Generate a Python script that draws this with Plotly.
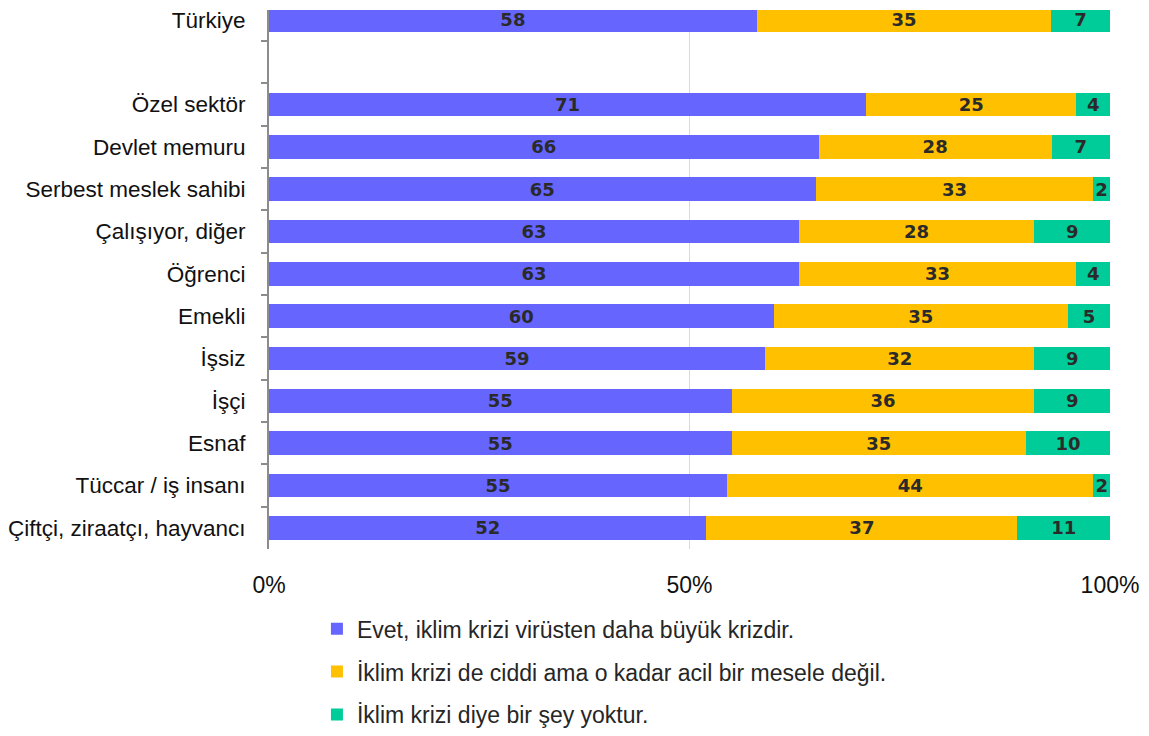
import plotly.graph_objects as go

categories = ["Türkiye", " ", "Özel sektör", "Devlet memuru", "Serbest meslek sahibi",
              "Çalışıyor, diğer", "Öğrenci", "Emekli", "İşsiz", "İşçi", "Esnaf",
              "Tüccar / iş insanı", "Çiftçi, ziraatçı, hayvancı"]
evet = [58, None, 71, 66, 65, 63, 63, 60, 59, 55, 55, 55, 52]
ciddi = [35, None, 25, 28, 33, 28, 33, 35, 32, 36, 35, 44, 37]
yok = [7, None, 4, 7, 2, 9, 4, 5, 9, 9, 10, 2, 11]

series_names = ["Evet, iklim krizi virüsten daha büyük krizdir.",
                "İklim krizi de ciddi ama o kadar acil bir mesele değil.",
                "İklim krizi diye bir şey yoktur."]
colors = ["#6666FF", "#FFC000", "#00CC99"]
x_ticks = [0, 50, 100]
x_tick_labels = ["0%", "50%", "100%"]

fig = go.Figure()
for i, (name, vals, col) in enumerate(zip(series_names, [evet, ciddi, yok], colors)):
    fig.add_trace(go.Bar(
        y=categories, x=vals, name=name, orientation="h",
        marker=dict(color=col, line=dict(width=0)),
        text=[("" if v is None else str(v)) for v in vals],
        texttemplate="%{text}",
        textposition="inside", insidetextanchor="middle", textangle=0,
        textfont=dict(family="DejaVu Sans", size=18, color="#2a2a2a", weight="bold"),
        legendgroup=f"g{i}",
    ))

fig.update_layout(
    barmode="stack", barnorm="percent", bargap=0.44,
    width=1149, height=736,
    margin=dict(l=261, r=47, t=0, b=195),
    plot_bgcolor="white", paper_bgcolor="white",
    font=dict(family="Liberation Sans", size=22.5, color="#111111"),
    uniformtext=dict(minsize=18, mode="show"),
    showlegend=True,
    legend=dict(orientation="v", x=0.057, xanchor="left", y=-0.108, yanchor="top",
                font=dict(size=23, color="#262626"), tracegroupgap=10,
                traceorder="grouped", itemclick=False),
    xaxis=dict(range=[0, 100], tickvals=x_ticks, ticktext=x_tick_labels,
               showgrid=True, gridcolor="#D9D9D9", gridwidth=1, zeroline=False,
               showline=False, ticks="", ticklabelstandoff=20,
               tickfont=dict(size=23, color="#111111")),
    yaxis=dict(categoryorder="array", categoryarray=categories,
               range=[12.5, -0.235], showline=True, linecolor="#8c8c8c", linewidth=2,
               ticks="outside", tickson="boundaries", ticklen=6, tickcolor="#8c8c8c",
               tickwidth=2, showgrid=False, ticklabelstandoff=17,
               tickfont=dict(size=22.5, color="#111111")),
)
fig.write_html("out.html")
